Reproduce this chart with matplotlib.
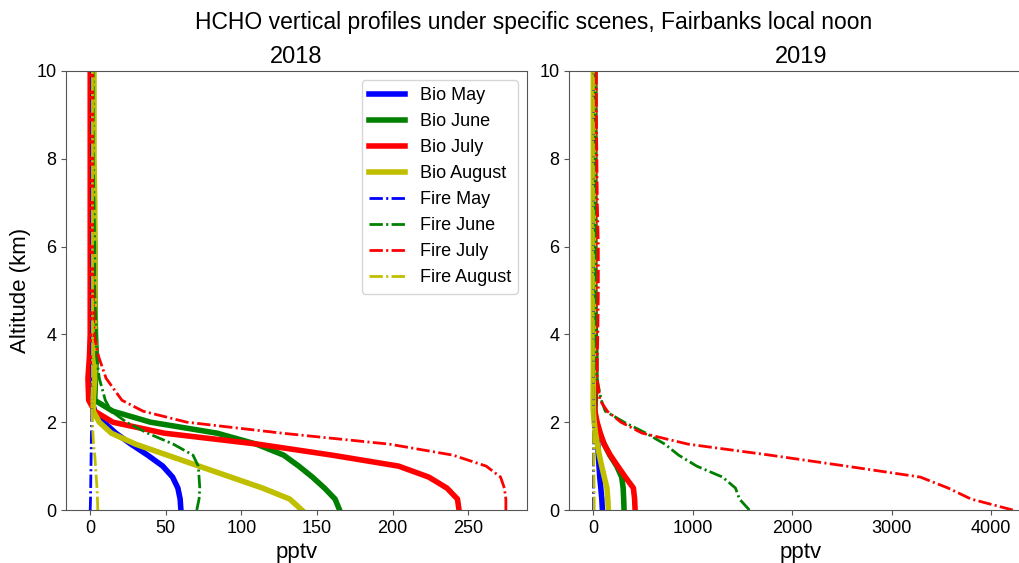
import matplotlib
matplotlib.use('Agg')
import matplotlib.pyplot as plt
import numpy as np

plt.rcParams['font.family'] = ['Liberation Sans', 'DejaVu Sans']

# altitude grid (km)
alt = np.array([0, 0.25, 0.5, 0.75, 1.0, 1.25, 1.5, 1.75, 2.0, 2.25, 2.5,
                3.0, 3.5, 4.0, 5.0, 6.0, 7.0, 8.0, 9.0, 10.0])

# 2018 profiles (pptv)
bio_may_18 = [60, 59.5, 58, 54.5, 48, 38, 27, 17, 9, 3, 1, 0.5, 0.5, 0.5, 0.5, 0.5, 0.5, 0.5, 0.5, 0.5]
bio_jun_18 = [165, 162, 155, 147, 138, 128, 110, 84, 40, 15, 3, 3.5, 4, 3.5, 3, 3, 2.5, 2, 2, 2]
bio_jul_18 = [244, 243, 236, 224, 204, 160, 111, 49, 15, 3, -1, -1.5, -0.5, 0, 0, 0, 0, 0, 0, 0]
bio_aug_18 = [140, 132, 114, 93, 72, 51, 30, 14, 6, 2, 2, 3, 3, 3, 3, 3, 3, 2.5, 2.5, 2.5]
fire_may_18 = [0, 0.2, 0.3, 0.4, 0.5, 0.6, 0.7, 0.8, 1, 1, 1, 1, 1, 1, 1, 1, 1, 1, 1, 1]
fire_jun_18 = [70.5, 72, 72.5, 72, 71.5, 68, 55, 38, 24, 14, 10, 6, 4.2, 4, 3, 3, 2.5, 2, 2, 2]
fire_jul_18 = [275, 275, 274, 271.5, 262, 240, 198, 127, 64, 35, 21, 10.5, 5.5, 2.5, 2, 1.5, 1.5, 1.5, 1.5, 1.5]
fire_aug_18 = [5, 4.8, 4.5, 4, 3.5, 3, 2.2, 1.8, 1.5, 1.2, 1, 1.5, 1.5, 1.5, 1.5, 1.5, 1.5, 1.5, 1.5, 1.5]

# 2019 profiles (pptv)
bio_may_19 = [91, 85, 75, 64, 57, 50, 44, 36, 20, 8, 5, 5, 5, 5, 5, 5, 5, 5, 5, 5]
bio_jun_19 = [309, 305, 300, 285, 235, 165, 110, 62, 30, 15, 20, 25, 25, 20, 15, 15, 15, 15, 15, 15]
bio_jul_19 = [420, 415, 403, 322, 245, 170, 108, 70, 38, 15, 10, 10, 10, 10, 10, 10, 10, 10, 10, 10]
bio_aug_19 = [151, 145, 137, 110, 84, 60, 40, 22, 8, 0, -2, 0, 0, 0, 0, 0, 0, 0, 0, 0]
fire_may_19 = [0, 0, 0, 0, 0, 0, 0, 0, 0, 0, 0, 0, 0, 0, 0, 0, 0, 0, 0, 0]
fire_jun_19 = [1570, 1470, 1430, 1300, 1040, 858, 720, 530, 310, 120, 80, 35, 30, 25, 20, 20, 20, 20, 20, 20]
fire_jul_19 = [4220, 3800, 3570, 3290, 2545, 1777, 954, 492, 278, 141, 67, 38, 40, 45, 50, 50, 40, 35, 30, 30]
fire_aug_19 = [8, 8, 7, 6, 5, 4, 3, 2, 1, 1, 1, 1, 1, 1, 1, 1, 1, 1, 1, 1]

labels = ['Bio May', 'Bio June', 'Bio July', 'Bio August',
          'Fire May', 'Fire June', 'Fire July', 'Fire August']
colors = ['b', 'g', 'r', 'y', 'b', 'g', 'r', 'y']
dashdot = (0, (4.8, 1.2, 0.75, 1.2))
styles = ['-', '-', '-', '-', dashdot, dashdot, dashdot, dashdot]
widths = [4, 4, 4, 4, 2, 2, 2, 2]

data18 = [bio_may_18, bio_jun_18, bio_jul_18, bio_aug_18,
          fire_may_18, fire_jun_18, fire_jul_18, fire_aug_18]
data19 = [bio_may_19, bio_jun_19, bio_jul_19, bio_aug_19,
          fire_may_19, fire_jun_19, fire_jul_19, fire_aug_19]

fig = plt.figure(figsize=(10.19, 5.63), dpi=100)
ax1 = fig.add_axes([0.0648, 0.0941, 0.4524, 0.7798])
ax2 = fig.add_axes([0.5584, 0.0941, 0.455, 0.7798])

for i in range(8):
    ax1.plot(data18[i], alt, color=colors[i], linestyle=styles[i], linewidth=widths[i], label=labels[i])
    ax2.plot(data19[i], alt, color=colors[i], linestyle=styles[i], linewidth=widths[i], label=labels[i])

ax1.set_xlim(-16, 289)
ax2.set_xlim(-245, 4420)
for ax in (ax1, ax2):
    ax.set_ylim(0, 10)
    ax.tick_params(labelsize=13, color='#555555')
    ax.set_xlabel('pptv', fontsize=16)
    for s in ax.spines.values():
        s.set_color('#555555')

ax1.set_xticks([0, 50, 100, 150, 200, 250])
ax2.set_xticks([0, 1000, 2000, 3000, 4000])
ax1.set_ylabel('Altitude (km)', fontsize=16)
ax1.set_title('2018', fontsize=17)
ax2.set_title('2019', fontsize=17)
ax1.legend(loc='upper right', fontsize=13)
fig.suptitle('HCHO vertical profiles under specific scenes, Fairbanks local noon',
             fontsize=16.5, x=0.524, y=0.98)

plt.savefig('out.png', dpi=100)
